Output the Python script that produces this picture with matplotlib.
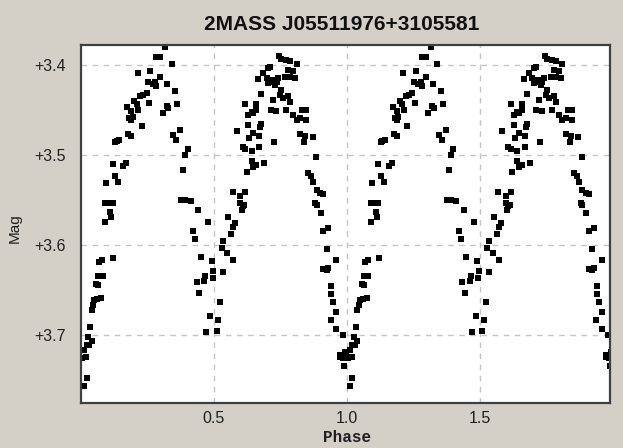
import numpy as np
from matplotlib import pyplot as plt

# one cycle of the folded light curve (repeated at phase+1)
phase = [0.034, 0.028, 0.040, 0.021, 0.011, 0.031, 0.003, 0.019, 0.021, 0.011,
         0.040, 0.046, 0.050, 0.059, 0.074, 0.056, 0.065, 0.065, 0.074, 0.081,
         0.069, 0.078, 0.122, 0.090, 0.112, 0.109, 0.090, 0.103, 0.119, 0.093,
         0.128, 0.140, 0.119, 0.159, 0.169, 0.128, 0.134, 0.144, 0.178, 0.187,
         0.182, 0.188, 0.194, 0.172, 0.187, 0.199, 0.209, 0.216, 0.228, 0.222,
         0.234, 0.247, 0.213, 0.257, 0.259, 0.253, 0.269, 0.284, 0.278, 0.297,
         0.284, 0.297, 0.316, 0.341, 0.307, 0.322, 0.328, 0.325, 0.353, 0.362,
         0.347, 0.357, 0.372, 0.401, 0.391, 0.385, 0.375, 0.391, 0.412, 0.439,
         0.422, 0.429, 0.479, 0.450, 0.491, 0.435, 0.445, 0.462, 0.466, 0.495,
         0.497, 0.535, 0.523, 0.485, 0.516, 0.472, 0.510,
         0.535, 0.529, 0.548, 0.573, 0.554, 0.573, 0.579, 0.566, 0.570, 0.598,
         0.617, 0.598, 0.608, 0.604, 0.613, 0.623, 0.642, 0.648, 0.660, 0.688,
         0.608, 0.617, 0.633, 0.642, 0.670, 0.585, 0.629, 0.648, 0.670, 0.673,
         0.679, 0.617, 0.629, 0.642, 0.648, 0.660, 0.679, 0.660, 0.727, 0.667,
         0.685, 0.704, 0.711, 0.698, 0.704, 0.711, 0.717, 0.723, 0.736, 0.729,
         0.742, 0.754, 0.723, 0.713, 0.733, 0.748, 0.761, 0.746, 0.754, 0.773,
         0.786, 0.811, 0.779, 0.798, 0.805, 0.786, 0.767, 0.779, 0.786, 0.773,
         0.798, 0.811, 0.823, 0.833, 0.848, 0.848, 0.823, 0.842, 0.838, 0.871,
         0.883, 0.855, 0.867, 0.873, 0.886, 0.898, 0.911, 0.880, 0.886, 0.901,
         0.911, 0.930, 0.924, 0.911, 0.924, 0.930, 0.961, 0.942, 0.942, 0.949,
         0.939, 0.961, 0.961, 0.984, 0.974, 0.992, 0.986, 0.998, 0.989, 0.976]
mag = [3.691, 3.702, 3.707, 3.711, 3.717, 3.711, 3.726, 3.724, 3.748, 3.757,
       3.672, 3.667, 3.661, 3.660, 3.659, 3.643, 3.644, 3.635, 3.635, 3.635,
       3.619, 3.617, 3.615, 3.575, 3.569, 3.564, 3.554, 3.554, 3.554, 3.531,
       3.524, 3.530, 3.510, 3.512, 3.509, 3.486, 3.485, 3.483, 3.477, 3.479,
       3.459, 3.461, 3.458, 3.447, 3.451, 3.440, 3.444, 3.450, 3.468, 3.435,
       3.433, 3.431, 3.409, 3.442, 3.407, 3.419, 3.421, 3.424, 3.419, 3.413,
       3.391, 3.391, 3.380, 3.399, 3.454, 3.446, 3.448, 3.421, 3.429, 3.443,
       3.478, 3.483, 3.472, 3.493, 3.500, 3.517, 3.550, 3.550, 3.551, 3.561,
       3.585, 3.594, 3.575, 3.613, 3.618, 3.641, 3.653, 3.640, 3.635, 3.637,
       3.629, 3.630, 3.663, 3.679, 3.683, 3.697, 3.696,
       3.596, 3.604, 3.609, 3.617, 3.569, 3.580, 3.576, 3.588, 3.541, 3.546,
       3.541, 3.554, 3.557, 3.561, 3.556, 3.519, 3.507, 3.513, 3.511, 3.509,
       3.491, 3.494, 3.481, 3.496, 3.491, 3.473, 3.467, 3.476, 3.479, 3.469,
       3.466, 3.443, 3.456, 3.452, 3.454, 3.450, 3.432, 3.444, 3.486, 3.416,
       3.409, 3.403, 3.402, 3.415, 3.420, 3.417, 3.419, 3.417, 3.419, 3.422,
       3.415, 3.428, 3.439, 3.450, 3.451, 3.434, 3.437, 3.390, 3.394, 3.395,
       3.396, 3.399, 3.406, 3.407, 3.415, 3.414, 3.413, 3.435, 3.441, 3.450,
       3.456, 3.461, 3.459, 3.450, 3.450, 3.461, 3.477, 3.479, 3.486, 3.480,
       3.502, 3.520, 3.524, 3.530, 3.539, 3.542, 3.543, 3.553, 3.556, 3.565,
       3.585, 3.581, 3.605, 3.627, 3.628, 3.626, 3.617, 3.646, 3.654, 3.663,
       3.683, 3.674, 3.693, 3.700, 3.722, 3.719, 3.726, 3.719, 3.735, 3.724]

x_ticks = [0.5, 1.0, 1.5]
x_labels = ['0.5', '1.0', '1.5']
y_ticks = [3.4, 3.5, 3.6, 3.7]
y_labels = ['+3.4', '+3.5', '+3.6', '+3.7']

bg = '#d4d0c8'
fig = plt.figure(figsize=(6.23, 4.48), dpi=100, facecolor=bg)
ax = fig.add_axes([81/623, 1 - 403/448, 529/623, 358/448])

ph = np.array(phase)
mg = np.array(mag)
ax.plot(np.concatenate([ph, ph + 1]), np.concatenate([mg, mg]), 's',
        color='black', ms=3.9, mew=0)

ax.set_xlim(0, 1.99)
ax.set_ylim(3.7756, 3.378)
ax.set_xticks(x_ticks)
ax.set_xticklabels(x_labels)
ax.set_yticks(y_ticks)
ax.set_yticklabels(y_labels)
ax.tick_params(length=0, labelsize=11.5, labelcolor='#202020')
ax.tick_params(axis='x', pad=6)
ax.tick_params(axis='y', pad=11)
for lab in ax.get_xticklabels() + ax.get_yticklabels():
    lab.set_family('Liberation Sans')
ax.grid(True, color='#c4c4c4', linestyle=(0, (4, 4)), linewidth=1)
for s in ax.spines.values():
    s.set_color('#404040')
    s.set_linewidth(1.6)

fig.text(342/623, 1 - 25/448, '2MASS J05511976+3105581', ha='center', va='center',
         fontsize=15, fontweight='bold', family='Liberation Sans', color='#101010')
fig.text(15/623, 1 - 228/448, 'Mag', rotation=90, ha='center', va='center',
         fontsize=11, family='Liberation Sans', color='#202020')
fig.text(347/623, 1 - 437/448, 'Phase', ha='center', va='center',
         fontsize=11.5, fontweight='bold', family='Liberation Mono', color='#202020')

plt.savefig('out.png', dpi=100, facecolor=bg)
